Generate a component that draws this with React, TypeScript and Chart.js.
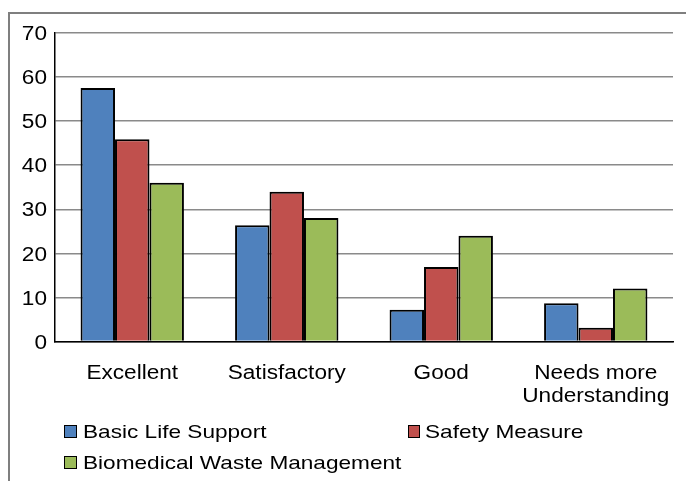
import React, { useEffect, useRef } from 'react';
import { Chart, registerables } from 'chart.js';

Chart.register(...registerables);

const categories: string[][] = [['Excellent'], ['Satisfactory'], ['Good'], ['Needs more', 'Understanding']];
const seriesNames = ['Basic Life Support', 'Safety Measure', 'Biomedical Waste Management'];
const basicLifeSupport = [57.5, 26.4, 7.2, 8.7];
const safetyMeasure = [45.9, 34.0, 16.9, 3.1];
const biomedicalWaste = [36.0, 28.0, 24.0, 12.0];
const seriesColors = ['#4F81BD', '#C0504D', '#9BBB59'];
const yMin = 0;
const yMax = 70;
const yStep = 10;

const FONT = "'Liberation Sans', Arial, sans-serif";
const AXIS_FONT_SIZE = 20;
const AXIS_STRETCH = 1.13;
const LEGEND_FONT_SIZE = 19;
const LEGEND_STRETCH = 1.19;

function drawStretched(ctx: CanvasRenderingContext2D, text: string, x: number, y: number, align: CanvasTextAlign) {
  ctx.save();
  ctx.translate(x, y);
  ctx.scale(AXIS_STRETCH, 1);
  ctx.textAlign = align;
  ctx.textBaseline = 'alphabetic';
  ctx.fillText(text, 0, 0);
  ctx.restore();
}

const stretchedTicksPlugin = {
  id: 'stretchedTicks',
  afterDraw(chart: any) {
    const ctx: CanvasRenderingContext2D = chart.ctx;
    ctx.save();
    ctx.fillStyle = '#000000';
    ctx.font = `${AXIS_FONT_SIZE}px ${FONT}`;
    const ys = chart.scales.y;
    ys.ticks.forEach((t: any) => {
      const y = ys.getPixelForValue(t.value);
      drawStretched(ctx, String(t.value), ys.right - 8, y + 7.2, 'right');
    });
    const xs = chart.scales.x;
    const labels = chart.data.labels as string[][];
    labels.forEach((lab, i) => {
      const x = xs.getPixelForTick(i);
      lab.forEach((line, j) => {
        drawStretched(ctx, line, x, xs.top + 37 + j * 23, 'center');
      });
    });
    ctx.restore();
  },
};

export default function App() {
  const canvasRef = useRef<HTMLCanvasElement | null>(null);

  useEffect(() => {
    const canvas = canvasRef.current;
    if (!canvas) return;
    const values = [basicLifeSupport, safetyMeasure, biomedicalWaste];
    const chart = new Chart(canvas, {
      type: 'bar',
      data: {
        labels: categories,
        datasets: seriesNames.map((name, i) => ({
          label: name,
          data: values[i],
          backgroundColor: seriesColors[i],
          borderColor: '#000000',
          borderWidth: 2,
          categoryPercentage: 0.669,
          barPercentage: 1,
        })),
      },
      options: {
        responsive: false,
        animation: false,
        devicePixelRatio: 1,
        layout: { padding: { left: 0, top: 33, right: 13, bottom: 0 } },
        plugins: {
          legend: { display: false },
          title: { display: false },
          tooltip: { enabled: false },
        },
        scales: {
          x: {
            grid: { display: false, drawTicks: false },
            border: { color: '#000000', width: 1.5 },
            ticks: { display: false, autoSkip: false, maxRotation: 0 },
            afterFit: (s: any) => {
              s.height = 139.5;
            },
          },
          y: {
            min: yMin,
            max: yMax,
            grid: { color: '#8a8a8a', lineWidth: 1.5, drawTicks: false },
            border: { color: '#000000', width: 1.5 },
            ticks: { display: false, stepSize: yStep },
            afterFit: (s: any) => {
              s.width = 55;
            },
          },
        },
      },
      plugins: [stretchedTicksPlugin],
    });
    return () => chart.destroy();
  }, []);

  const legendItems = [
    { name: seriesNames[0], color: seriesColors[0], boxLeft: 64, textLeft: 83, baseline: 437.7 },
    { name: seriesNames[1], color: seriesColors[1], boxLeft: 407.5, textLeft: 425, baseline: 437.7 },
    { name: seriesNames[2], color: seriesColors[2], boxLeft: 64, textLeft: 83, baseline: 469 },
  ];

  return (
    <div style={{ position: 'fixed', left: 0, top: 0, width: 686, height: 481, background: '#ffffff', overflow: 'hidden' }}>
      <div
        style={{
          position: 'absolute',
          left: 8,
          top: 12,
          width: 720,
          height: 520,
          borderLeft: '2px solid #7f7f7f',
          borderTop: '2px solid #7f7f7f',
        }}
      />
      <canvas ref={canvasRef} width={686} height={481} style={{ position: 'absolute', left: 0, top: 0, width: 686, height: 481 }} />
      {legendItems.map((it) => (
        <React.Fragment key={it.name}>
          <div
            style={{
              position: 'absolute',
              left: it.boxLeft,
              top: it.baseline - 12.7,
              width: 12.5,
              height: 12.5,
              boxSizing: 'border-box',
              border: '1.5px solid #000',
              background: it.color,
            }}
          />
          <div
            style={{
              position: 'absolute',
              left: it.textLeft,
              top: it.baseline - 16,
              height: 19,
              lineHeight: '19px',
              fontFamily: FONT,
              fontSize: LEGEND_FONT_SIZE,
              color: '#000',
              whiteSpace: 'nowrap',
              transform: `scaleX(${LEGEND_STRETCH})`,
              transformOrigin: 'left center',
            }}
          >
            {it.name}
          </div>
        </React.Fragment>
      ))}
    </div>
  );
}
